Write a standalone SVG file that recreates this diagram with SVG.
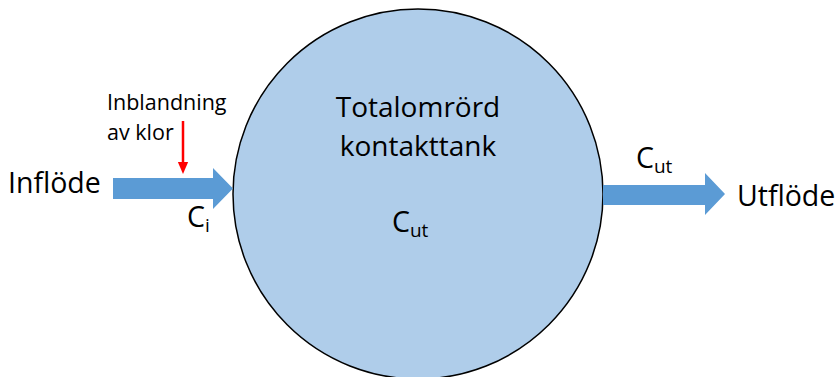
<svg xmlns="http://www.w3.org/2000/svg" width="840" height="377" viewBox="0 0 840 377">
<style>
text{font-family:"Open Sans","Liberation Sans",sans-serif;fill:#000}
.big{font-size:28.5px}
.tank{font-size:28px}
.sm{font-size:21.5px}
.sub{font-size:19px}
.flow{fill:#5B9BD5}
</style>
<defs>
<marker id="red" markerWidth="12" markerHeight="14" refX="0" refY="6" orient="auto" markerUnits="userSpaceOnUse" viewBox="0 0 14 12"><path d="M0,0 L14,6 L0,12 z" fill="#FF0000"/></marker>
</defs>
<rect width="840" height="377" fill="#fff"/>
<g id="tank">
<circle cx="418" cy="194" r="185" fill="#AFCDEA" stroke="#000" stroke-width="1.5"/>
<text class="tank" x="418" y="117" text-anchor="middle">Totalomrörd</text>
<text class="tank" x="418" y="156" text-anchor="middle">kontakttank</text>
<text class="big" x="392" y="232">C<tspan class="sub" dy="5">ut</tspan></text>
</g>
<g id="connectors">
<path class="flow" d="M113,178 H213 V168 L233,188.5 L213,209 V199 H113 z"/>
<path class="flow" d="M603,185 H705 V173 L725,194 L705,215 V205 H603 z"/>
<line x1="183" y1="121" x2="183" y2="162" stroke="#FF0000" stroke-width="2.5" marker-end="url(#red)"/>
</g>
<g id="inflow">
<text class="big" x="8" y="193">Inflöde</text>
<text class="sm" x="107" y="110">Inblandning</text>
<text class="sm" x="107" y="140">av klor</text>
<text class="big" x="187" y="227">C<tspan class="sub" dy="5">i</tspan></text>
</g>
<g id="outflow">
<text class="big" x="636" y="168">C<tspan class="sub" dy="5">ut</tspan></text>
<text class="big" x="737" y="206">Utflöde</text>
</g>
</svg>
